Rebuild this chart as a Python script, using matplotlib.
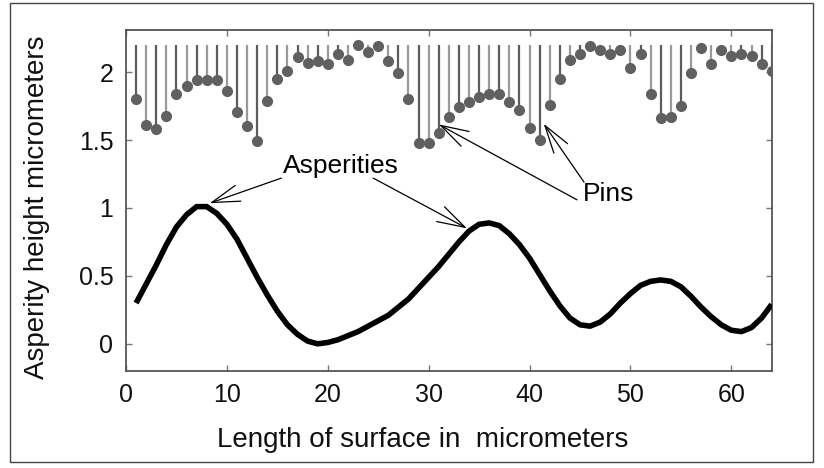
import numpy as np
import matplotlib
matplotlib.use("Agg")
import matplotlib.pyplot as plt
from matplotlib.patches import Rectangle

plt.rcParams['font.family'] = ['Liberation Sans', 'DejaVu Sans']

# ---- data ----
positions = list(range(1, 65))
pin_top = 2.2
pin_heights = [1.80, 1.61, 1.58, 1.68, 1.84, 1.90, 1.94, 1.94, 1.94, 1.86,
               1.71, 1.60, 1.49, 1.79, 1.95, 2.01, 2.11, 2.07, 2.08, 2.06,
               2.13, 2.09, 2.20, 2.15, 2.19, 2.08, 1.99, 1.80, 1.48, 1.48,
               1.55, 1.67, 1.74, 1.78, 1.82, 1.84, 1.84, 1.78, 1.72, 1.59,
               1.50, 1.76, 1.95, 2.09, 2.13, 2.19, 2.16, 2.13, 2.16, 2.03,
               2.13, 1.84, 1.66, 1.67, 1.75, 1.99, 2.18, 2.06, 2.16, 2.12,
               2.13, 2.12, 2.06, 2.01]
surface = [0.30, 0.44, 0.58, 0.73, 0.86, 0.95, 1.01, 1.01, 0.96, 0.88,
           0.77, 0.63, 0.49, 0.36, 0.24, 0.14, 0.07, 0.02, 0.00, 0.01,
           0.03, 0.06, 0.09, 0.13, 0.17, 0.21, 0.27, 0.33, 0.41, 0.49,
           0.57, 0.66, 0.75, 0.83, 0.88, 0.89, 0.87, 0.81, 0.73, 0.63,
           0.51, 0.39, 0.28, 0.19, 0.14, 0.13, 0.16, 0.22, 0.30, 0.37,
           0.43, 0.46, 0.47, 0.46, 0.42, 0.35, 0.27, 0.20, 0.14, 0.10,
           0.09, 0.12, 0.19, 0.29]
xticks = [0, 10, 20, 30, 40, 50, 60]
yticks = [0, 0.5, 1, 1.5, 2]
ytick_labels = ["0", "0.5", "1", "1.5", "2"]

fig = plt.figure(figsize=(8.24, 4.68), dpi=100)
ax = fig.add_axes([126/824, 1-371/468, (771.7-126)/824, (371-30)/468])

# pins
stem_colors = ['#5c5c5c' if i % 2 == 0 else '#9a9a9a' for i in range(len(positions))]
ax.vlines(positions, pin_heights, pin_top, colors=stem_colors, linewidth=1.6, zorder=2)
ax.plot(positions, pin_heights, linestyle='none', marker='o', markersize=7,
        color='#606060', markeredgecolor='#606060', zorder=3)

# surface
ax.plot(positions, surface, color='black', linewidth=4, solid_capstyle='butt', zorder=4)

ax.set_xlim(0, 64)
ax.set_ylim(-0.2, 2.31)
ax.set_xticks(xticks)
ax.set_xticklabels([str(t) for t in xticks])
ax.set_yticks(yticks)
ax.set_yticklabels(ytick_labels)
ax.tick_params(direction='in', length=4, width=1, color='#777777',
               top=True, right=True, labelsize=18, pad=9, labelcolor='#111111')
for sp in ax.spines.values():
    sp.set_color('#555555')
    sp.set_linewidth(1.3)

# annotations
arrow_kw = dict(arrowstyle='->,head_length=2.0,head_width=0.6', color='black',
                lw=0.9, shrinkA=0, shrinkB=0, mutation_scale=10)
ax.text(21.3, 1.31, "Asperities", fontsize=19, ha='center', va='center', zorder=6)
ax.annotate('', xy=(8.3, 1.035), xytext=(15.4, 1.22), arrowprops=arrow_kw, zorder=6)
ax.annotate('', xy=(33.8, 0.85), xytext=(24.5, 1.22), arrowprops=arrow_kw, zorder=6)
ax.text(47.8, 1.10, "Pins", fontsize=19, ha='center', va='center', zorder=6)
ax.annotate('', xy=(31.0, 1.615), xytext=(44.7, 1.06), arrowprops=arrow_kw, zorder=6)
ax.annotate('', xy=(41.4, 1.62), xytext=(45.4, 1.19), arrowprops=arrow_kw, zorder=6)

# axis labels
fig.text(37/824, 1-207/468, "Asperity height micrometers", rotation=90,
         fontsize=20, ha='center', va='center', color='#111111')
fig.text(423/824, 1-440/468, "Length of surface in  micrometers",
         fontsize=20, ha='center', va='center', color='#111111')

# outer frame
fig.patches.append(Rectangle((10/824, 1-462/468), (813-10)/824, (462-3)/468,
                             transform=fig.transFigure, fill=False,
                             edgecolor='#444444', linewidth=1))

fig.savefig("out.png", dpi=100)
